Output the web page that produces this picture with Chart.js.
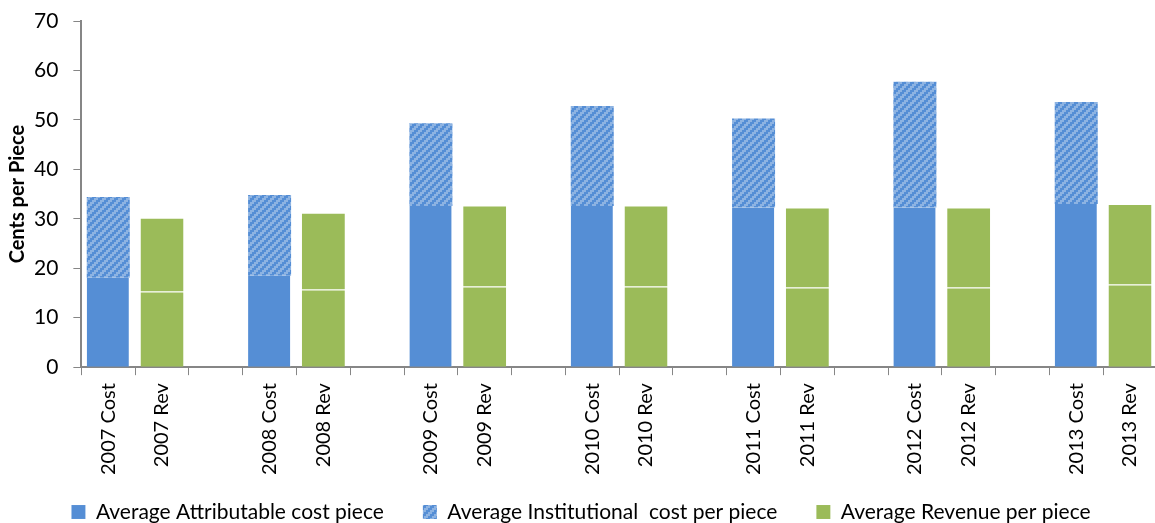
<!DOCTYPE html>
<html>
<head>
<meta charset="utf-8">
<script src="https://cdn.jsdelivr.net/npm/chart.js@4"></script>
<style>
  html, body { margin: 0; padding: 0; background: #fff; overflow: hidden; }
  #wrap { width: 1162px; height: 523px; }
</style>
</head>
<body>
<div id="wrap"><canvas id="chart" width="1162" height="523"></canvas></div>
<script>
// cents per piece, one value per year
const years = [2007, 2008, 2009, 2010, 2011, 2012, 2013];
const attributable = [18.1, 18.5, 32.6, 32.6, 32.3, 32.3, 33.0];
const institutional = [16.3, 16.3, 16.7, 20.2, 18.0, 25.4, 20.6];
const revenueLower = [15.3, 15.7, 16.3, 16.3, 16.1, 16.1, 16.7];
const revenueUpper = [14.9, 15.5, 16.4, 16.4, 16.2, 16.2, 16.3];
const yTicks = [0, 10, 20, 30, 40, 50, 60, 70];

const BLUE = '#558ed5';
const GREEN = '#9bbb59';
const AXIS = '#868686';
const FONT = 'Lato, "Noto Sans", sans-serif';

// legend takes little room under the axis labels, but keeps wide gaps between items
const LEGEND_PAD = 39;
const LEGEND_ROOM = 40;

// each year gets a Cost slot, a Rev slot and an empty spacer slot
const labels = [];
const costIdx = [];
const revIdx = [];
years.forEach((y, i) => {
  costIdx.push(labels.length); labels.push(`${y} Cost`);
  revIdx.push(labels.length); labels.push(`${y} Rev`);
  if (i < years.length - 1) labels.push('');
});

const spread = (values, slots) => {
  const out = labels.map(() => null);
  values.forEach((v, i) => { out[slots[i]] = v; });
  return out;
};

// stair-step upward diagonal hatch for the institutional cost
const makeHatch = () => {
  const c = document.createElement('canvas');
  c.width = 8; c.height = 8;
  const g = c.getContext('2d');
  g.fillStyle = '#8db3e2';
  g.fillRect(0, 0, 8, 8);
  g.fillStyle = BLUE;
  for (let cy = 0; cy < 4; cy++) {
    for (let cx = 0; cx < 4; cx++) {
      if ((cx + cy) % 4 < 2) g.fillRect(cx * 2, cy * 2, 2, 2);
    }
  }
  return g.createPattern(c, 'repeat');
};

// legend box is reserved short, then its top is lifted so the text sits near the bottom
const legendLift = {
  id: 'legendLift',
  afterLayout(chart) {
    chart.legend.top += LEGEND_ROOM - (LEGEND_PAD + 21.5);
  },
};

const ctx = document.getElementById('chart').getContext('2d');
const hatch = makeHatch();

new Chart(ctx, {
  type: 'bar',
  data: {
    labels: labels,
    datasets: [
      {
        label: 'Average Attributable cost piece',
        data: spread(attributable, costIdx),
        backgroundColor: BLUE,
        borderColor: 'rgba(255,255,255,0.3)',
        borderWidth: { right: 1 },
        borderSkipped: false,
      },
      {
        label: 'Average Institutional  cost per piece',
        data: spread(institutional, costIdx),
        backgroundColor: hatch,
        borderWidth: 0,
      },
      {
        label: 'Average Revenue per piece',
        data: spread(revenueLower, revIdx),
        backgroundColor: GREEN,
        borderColor: 'rgba(255,255,255,0.22)',
        borderWidth: { top: 1 },
        borderSkipped: false,
      },
      {
        label: 'Revenue upper',
        data: spread(revenueUpper, revIdx),
        backgroundColor: GREEN,
        borderColor: 'rgba(255,255,255,0.22)',
        borderWidth: { top: 1 },
        borderSkipped: false,
      },
    ],
  },
  plugins: [legendLift],
  options: {
    responsive: false,
    animation: false,
    datasets: { bar: { categoryPercentage: 1, barPercentage: 0.8 } },
    layout: { padding: { top: 21, left: 0, right: 0, bottom: 0 } },
    plugins: {
      tooltip: { enabled: false },
      legend: {
        position: 'bottom',
        maxHeight: LEGEND_ROOM,
        labels: {
          filter: (item) => item.datasetIndex !== 3,
          boxWidth: 14,
          boxHeight: 14,
          padding: LEGEND_PAD,
          color: '#000',
          font: { family: FONT, size: 21 },
        },
      },
    },
    scales: {
      x: {
        stacked: true,
        grid: { drawOnChartArea: false, drawTicks: true, tickLength: 8, color: AXIS, offset: true },
        border: { display: true, color: AXIS, width: 2 },
        ticks: {
          autoSkip: false,
          maxRotation: 90,
          minRotation: 90,
          padding: 8,
          color: '#000',
          font: { family: FONT, size: 20 },
        },
      },
      y: {
        stacked: true,
        min: 0,
        max: 70,
        afterBuildTicks: (axis) => { axis.ticks = yTicks.map(v => ({ value: v })); },
        // top label may overhang the plot; the layout padding already leaves room for it
        afterFit: (axis) => { axis.paddingTop = 0; },
        grid: { drawOnChartArea: false, drawTicks: true, tickLength: 8, color: AXIS },
        border: { display: true, color: AXIS, width: 2 },
        ticks: {
          padding: 15,
          color: '#000',
          font: { family: FONT, size: 21 },
        },
        title: {
          display: true,
          text: 'Cents per Piece',
          color: '#000',
          font: { family: FONT, size: 20, weight: 'bold' },
          padding: { top: 6, bottom: -11 },
        },
      },
    },
  },
});
</script>
</body>
</html>
